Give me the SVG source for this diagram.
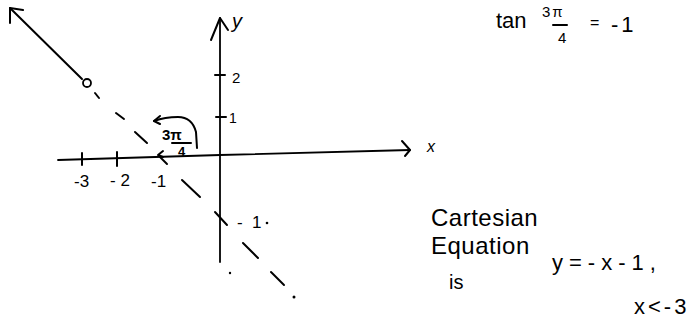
<svg xmlns="http://www.w3.org/2000/svg" width="691" height="326" viewBox="0 0 691 326">
<style>
.ln{fill:none;stroke:#000;stroke-width:2;stroke-linecap:round;stroke-linejoin:round}
.ax{fill:none;stroke:#000;stroke-width:1.8;stroke-linecap:round}
.t{font-family:"Liberation Sans",Arial,sans-serif;fill:#000}
</style>
<rect width="691" height="326" fill="#fff"/>
<g id="x-axis">
<polyline class="ax" points="58,160 220,155 410,150"/>
<polyline class="ln" points="402,141 410,150 405,156"/>
<line class="ln" x1="82" y1="153" x2="82" y2="165"/>
<line class="ln" x1="117" y1="152" x2="117" y2="166"/>
<text class="t" x="427" y="152" font-size="16" font-style="italic">x</text>
<text class="t" x="74" y="187" font-size="17">-3</text>
<text class="t" x="110" y="186" font-size="17">- 2</text>
<text class="t" x="151" y="187" font-size="17">-1</text>
</g>
<g id="y-axis">
<line class="ax" x1="220" y1="18" x2="220" y2="262"/>
<polyline class="ln" points="211,40 220,18 228,30"/>
<line class="ln" x1="215" y1="75" x2="225" y2="75"/>
<line class="ln" x1="216" y1="117" x2="226" y2="117"/>
<text class="t" x="232" y="28" font-size="20" font-style="italic">y</text>
<text class="t" x="232" y="83" font-size="15">2</text>
<text class="t" x="229" y="123" font-size="14">1</text>
<text class="t" x="237" y="228" font-size="17">-</text>
<text class="t" x="252" y="228" font-size="17">1</text>
</g>
<g id="curve">
<polyline class="ln" points="23,10 10,8 10,23"/>
<line class="ln" x1="10" y1="8" x2="82" y2="79"/>
<circle cx="87" cy="83" r="4" fill="#fff" stroke="#000" stroke-width="1.8"/>
<g class="ln">
<line x1="95" y1="93" x2="99" y2="98"/>
<line x1="116" y1="113" x2="124" y2="119"/>
<line x1="135" y1="132" x2="147" y2="143"/>
<line x1="160" y1="157" x2="167" y2="164"/>
<line x1="182" y1="180" x2="200" y2="197"/>
<line x1="215" y1="212" x2="227" y2="225"/>
<line x1="243" y1="243" x2="258" y2="258"/>
<line x1="271" y1="272" x2="284" y2="285"/>
</g>
<circle cx="294" cy="297" r="1.5" fill="#000"/>
<circle cx="230" cy="273" r="1.2" fill="#000"/>
<circle cx="267" cy="223" r="1.3" fill="#000"/>
</g>
<g id="angle">
<path class="ln" d="M197,148 L196,132 Q192,117 178,117 Q165,117 154,121"/>
<polyline class="ln" points="160,116 154,121 160,124"/>
<polyline class="ln" points="163,151 158,155 163,157"/>
<text class="t" x="162" y="140" font-size="15" font-weight="bold">3π</text>
<line class="ln" x1="172" y1="143" x2="191" y2="143"/>
<text class="t" x="178" y="156" font-size="13" font-weight="bold">4</text>
</g>
<g id="tan">
<text class="t" x="496" y="28" font-size="22">tan</text>
<text class="t" x="542" y="17" font-size="15" letter-spacing="2">3π</text>
<line class="ln" x1="553" y1="25" x2="567" y2="25"/>
<text class="t" x="558" y="43" font-size="15">4</text>
<text class="t" x="590" y="28" font-size="16">=</text>
<text class="t" x="611" y="32" font-size="22" letter-spacing="3">-1</text>
</g>
<g id="equation">
<text class="t" x="431" y="226" font-size="24" letter-spacing="0.5">Cartesian</text>
<text class="t" x="431" y="254" font-size="24" letter-spacing="0.5">Equation</text>
<text class="t" x="449" y="289" font-size="20">is</text>
<text class="t" x="552" y="270" font-size="22" letter-spacing="6">y=-x-1,</text>
<text class="t" x="634" y="314" font-size="22" letter-spacing="3">x&lt;-3</text>
</g>
</svg>
